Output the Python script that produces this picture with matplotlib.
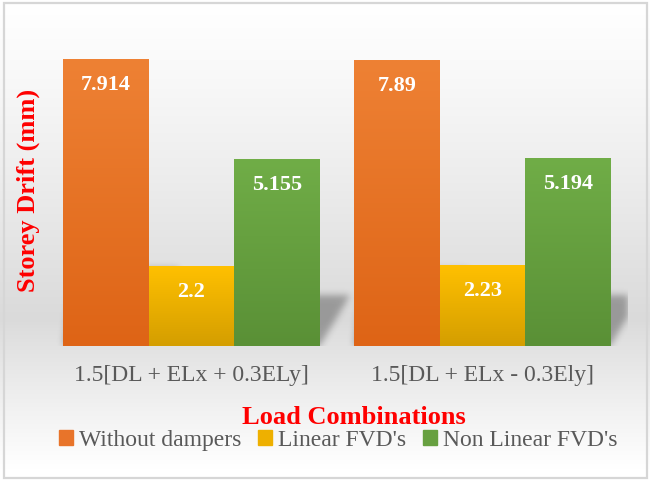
import numpy as np
import matplotlib
matplotlib.use("Agg")
import matplotlib.pyplot as plt
from matplotlib.patches import Rectangle
from matplotlib.colors import LinearSegmentedColormap

categories = ["1.5[DL + ELx + 0.3ELy]", "1.5[DL + ELx - 0.3Ely]"]
series_names = ["Without dampers", "Linear FVD's", "Non Linear FVD's"]
without_dampers = [7.914, 7.89]
linear_fvd = [2.2, 2.23]
nonlinear_fvd = [5.155, 5.194]
value_labels = [["7.914", "7.89"], ["2.2", "2.23"], ["5.155", "5.194"]]

series = [without_dampers, linear_fvd, nonlinear_fvd]
top_colors = ["#EE8134", "#FFC000", "#70AD47"]
bot_colors = ["#DE6416", "#D49E00", "#5A9036"]
mid_colors = ["#E8742A", "#EEB000", "#67A040"]

W, H = 650, 481
fig = plt.figure(figsize=(W / 100, H / 100), dpi=100)

# background gradient
bg = fig.add_axes([0, 0, 1, 1], zorder=-10)
yy = np.linspace(0, 1, 481)  # 0 = top
pk = 320 / 481
vals = np.where(yy < pk, 255 - (255 - 218) * (yy / pk) ** 1.2,
                218 + (255 - 218) * np.clip((yy - pk) / (470 / 481 - pk), 0, 1) ** 0.9)
img = np.repeat(vals[:, None], 2, axis=1) / 255.0
bg.imshow(np.dstack([img, img, img]), aspect="auto", extent=[0, 1, 0, 1], origin="upper")
bg.add_patch(Rectangle((4 / W, 2 / H), 643 / W, 475 / H, fill=False, ec="#d6d6d6", lw=1.6,
                       transform=bg.transAxes))
bg.set_xlim(0, 1); bg.set_ylim(0, 1)
bg.axis("off")

left, right = 46, 628
top, base = 21, 347
ax = fig.add_axes([left / W, (H - base) / H, (right - left) / W, (base - top) / H])
ax.set_xlim(-0.5, 1.5)
ax.set_ylim(0, 9)
ax.patch.set_alpha(0)
for s in ax.spines.values():
    s.set_visible(False)
ax.set_yticks([])
ax.set_xticks([])

x = np.arange(len(categories))
bw = 0.2945
offsets = [-bw, 0, bw]

# shadows
nx, ny = (right - left), (base - top)
gx = np.linspace(-0.5, 1.5, nx)
gy = np.linspace(0, 9, ny)
GX, GY = np.meshgrid(gx, gy)
mask = np.zeros_like(GX)
dx = 30 / nx * 2.0
for k, vals_s in enumerate(series):
    for i, v in enumerate(vals_s):
        x0 = x[i] + offsets[k] - bw / 2
        x1 = x0 + bw
        h = 0.27 * v
        f = np.clip(GY / h, 0, 1)
        inside = (GY <= h) & (GX >= x0 + f * dx * 0.3) & (GX <= x1 + f * dx)
        mask[inside] = 1.0

def blur(a, sig):
    r = int(3 * sig)
    t = np.arange(-r, r + 1)
    kern = np.exp(-t ** 2 / (2 * sig ** 2)); kern /= kern.sum()
    a = np.apply_along_axis(lambda m: np.convolve(m, kern, mode="same"), 1, a)
    a = np.apply_along_axis(lambda m: np.convolve(m, kern, mode="same"), 0, a)
    return a

mask = blur(mask, 3.5)
rgba = np.zeros((ny, nx, 4))
rgba[..., 3] = mask * 0.3
ax.imshow(rgba, extent=[-0.5, 1.5, 0, 9], origin="lower", aspect="auto", zorder=1)

# bars with gradient
for k, vals_s in enumerate(series):
    bars = ax.bar(x + offsets[k], vals_s, width=bw, color=mid_colors[k], zorder=2,
                  label=series_names[k], linewidth=0)
    cmap = LinearSegmentedColormap.from_list("g%d" % k, [bot_colors[k], top_colors[k]])
    for i, b in enumerate(bars):
        bx, by = b.get_x(), b.get_y()
        grad = np.linspace(0, 1, 100)[:, None]
        im = ax.imshow(grad, cmap=cmap, origin="lower", aspect="auto",
                       extent=[bx, bx + b.get_width(), 0, b.get_height()], zorder=3)
        im.set_clip_path(b)
        ax.annotate(value_labels[k][i], (bx + b.get_width() / 2, b.get_height()),
                    xytext=(0, -18), textcoords="offset points", ha="center", va="center",
                    color="white", fontsize=16, fontweight="bold",
                    family="Liberation Serif", zorder=5)

ax.set_xlim(-0.5, 1.5)
ax.set_ylim(0, 9)

# category labels
for i, c in enumerate(categories):
    fig.text((left + (x[i] + 0.5) / 2 * (right - left)) / W, 1 - 376 / H, c,
             ha="center", va="center", fontsize=17, color="#595959", family="Liberation Serif")

fig.text(354 / W, 1 - 418 / H, "Load Combinations", ha="center", va="center",
         fontsize=19, fontweight="bold", color="red", family="Liberation Serif")
fig.text(28 / W, 1 - 190 / H, "Storey Drift (mm)", ha="center", va="center", rotation=90,
         fontsize=19, fontweight="bold", color="red", family="Liberation Serif")

handles = [Rectangle((0, 0), 1, 1, color=c) for c in mid_colors]
fig.legend(handles, series_names, loc="center", bbox_to_anchor=(338 / W, 1 - 441 / H),
           ncol=3, frameon=False, prop={"family": "Liberation Serif", "size": 17},
           labelcolor="#595959", handlelength=0.6, handleheight=0.6, handletextpad=0.25,
           columnspacing=0.7, borderpad=0)

fig.savefig("out.png", dpi=100)
